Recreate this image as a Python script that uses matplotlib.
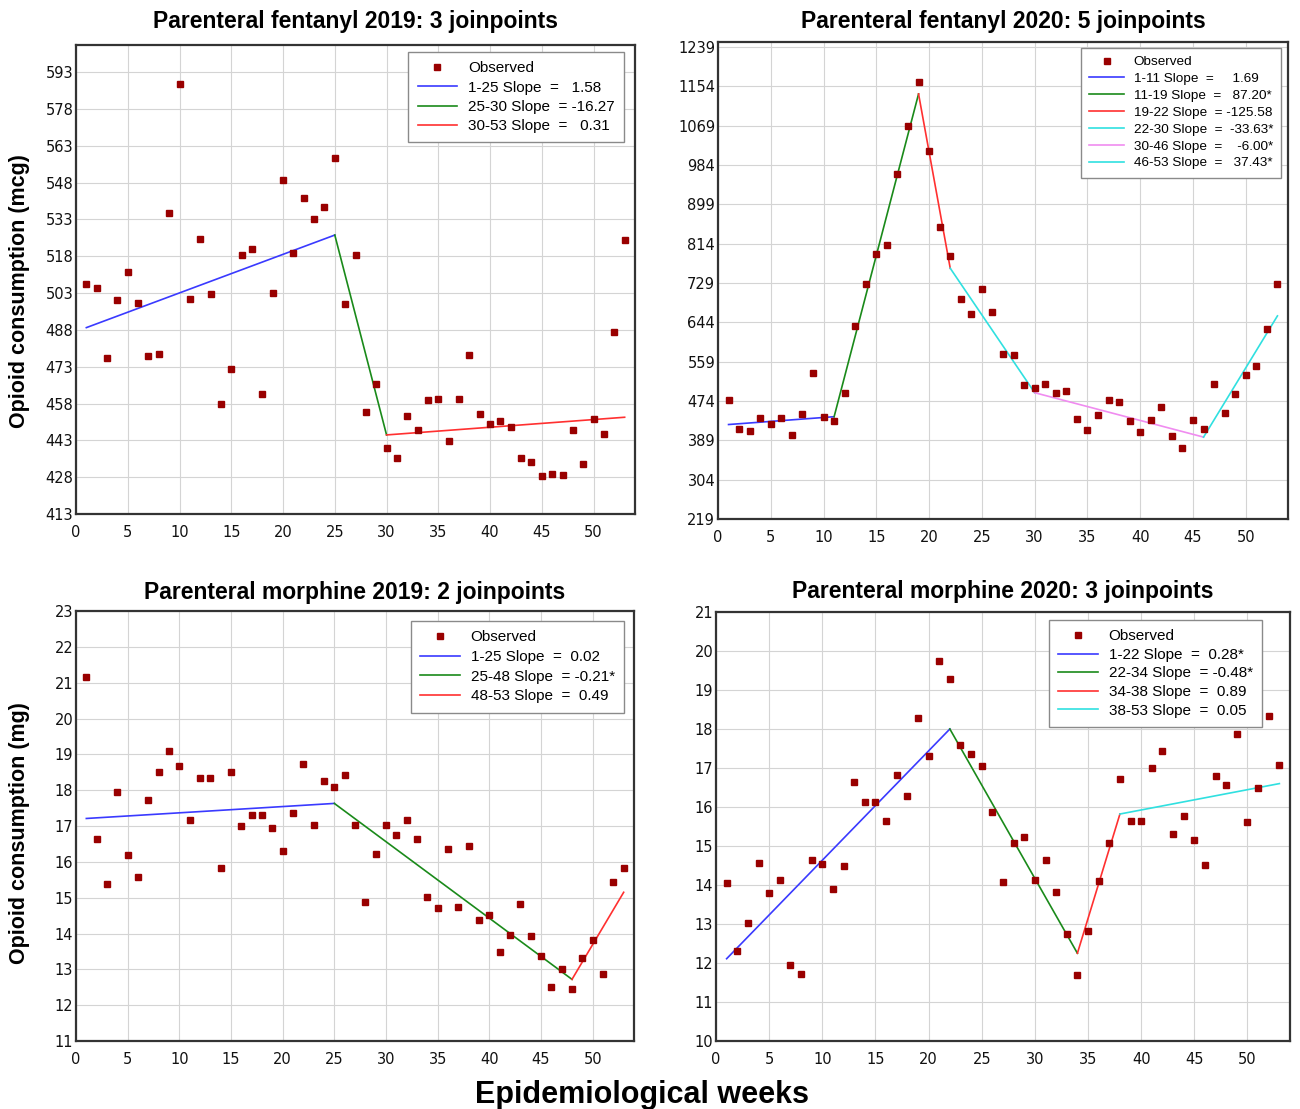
import matplotlib
matplotlib.use("Agg")
import matplotlib.pyplot as plt
from matplotlib.lines import Line2D

# ---------------- data ----------------
weeks = list(range(1, 54))

fent2019 = [506.5, 505, 476.5, 500, 511.6, 499, 477.2, 478.3, 535.4, 588.2,
            500.5, 525.1, 502.5, 457.9, 471.9, 518.4, 521, 461.8, 502.9, 549.2,
            519.4, 541.7, 533.3, 538.2, 557.8, 498.4, 518.4, 454.6, 465.9, 439.7,
            435.7, 452.9, 447.4, 459.4, 459.9, 442.8, 459.8, 477.9, 453.8, 449.5,
            451, 448.4, 435.9, 434, 428.5, 429.3, 428.8, 447.1, 433.4, 451.8,
            445.4, 487.1, 524.7]
fent2019_jp_weeks = [1, 25, 30, 53]
fent2019_jp_vals = [488.9, 526.6, 445.2, 452.4]
fent2019_labels = ["1-25 Slope  =   1.58", "25-30 Slope  = -16.27", "30-53 Slope  =   0.31"]
fent2019_ticks = [413, 428, 443, 458, 473, 488, 503, 518, 533, 548, 563, 578, 593]

fent2020 = [476.4, 414.5, 408.8, 436.8, 424.6, 437.5, 401.6, 446.9, 534.6, 439,
            431.8, 491.5, 636, 726.6, 792.7, 810.7, 964.5, 1068.7, 1163.6, 1014.1,
            849.5, 788.4, 693.5, 661.8, 717.2, 665.4, 576.3, 573.4, 508.7, 502.2,
            510.2, 492.2, 495.1, 436.1, 411.7, 444.7, 477.1, 471.3, 430.4, 406.6,
            433.2, 461.3, 398, 371.4, 433.2, 413.1, 511.6, 448.3, 488.6, 530.3,
            549, 630.2, 728]
fent2020_jp_weeks = [1, 11, 19, 22, 30, 46, 53]
fent2020_jp_vals = [423.2, 440.1, 1137.7, 761.0, 492.0, 396.0, 658.0]
fent2020_labels = ["1-11 Slope  =     1.69", "11-19 Slope  =   87.20*", "19-22 Slope  = -125.58",
                   "22-30 Slope  =  -33.63*", "30-46 Slope  =    -6.00*", "46-53 Slope  =   37.43*"]
fent2020_ticks = [219, 304, 389, 474, 559, 644, 729, 814, 899, 984, 1069, 1154, 1239]

morph2019 = [21.16, 16.64, 15.37, 17.94, 16.2, 15.59, 17.73, 18.52, 19.09, 18.68,
             17.18, 18.35, 18.35, 15.82, 18.51, 17.0, 17.32, 17.31, 16.94, 16.3,
             17.36, 18.72, 17.04, 18.26, 18.09, 18.42, 17.03, 14.89, 16.23, 17.04,
             16.74, 17.17, 16.64, 15.01, 14.71, 16.35, 14.73, 16.45, 14.39, 14.51,
             13.48, 13.97, 14.81, 13.93, 13.36, 12.5, 13.02, 12.44, 13.32, 13.82,
             12.86, 15.45, 15.82]
morph2019_jp_weeks = [1, 25, 48, 53]
morph2019_jp_vals = [17.21, 17.63, 12.72, 15.15]
morph2019_labels = ["1-25 Slope  =  0.02", "25-48 Slope  = -0.21*", "48-53 Slope  =  0.49"]
morph2019_ticks = list(range(11, 24))

morph2020 = [14.04, 12.3, 13.03, 14.57, 13.8, 14.13, 11.94, 11.72, 14.65, 14.54,
             13.9, 14.48, 16.63, 16.14, 16.12, 15.64, 16.81, 16.27, 18.27, 17.3,
             19.74, 19.29, 17.6, 17.37, 17.06, 15.88, 14.07, 15.08, 15.23, 14.13,
             14.65, 13.81, 12.75, 11.7, 12.81, 14.11, 15.08, 16.71, 15.63, 15.63,
             17.01, 17.43, 15.3, 15.76, 15.15, 14.51, 16.79, 16.56, 17.87, 15.61,
             16.5, 18.34, 17.08]
morph2020_jp_weeks = [1, 22, 34, 38, 53]
morph2020_jp_vals = [12.11, 18.0, 12.25, 15.82, 16.6]
morph2020_labels = ["1-22 Slope  =  0.28*", "22-34 Slope  = -0.48*", "34-38 Slope  =  0.89",
                    "38-53 Slope  =  0.05"]
morph2020_ticks = list(range(10, 22))

titles = ["Parenteral fentanyl 2019: 3 joinpoints", "Parenteral fentanyl 2020: 5 joinpoints",
          "Parenteral morphine 2019: 2 joinpoints", "Parenteral morphine 2020: 3 joinpoints"]
x_ticks = [0, 5, 10, 15, 20, 25, 30, 35, 40, 45, 50]

# ---------------- styling ----------------
W, H = 1300, 1109
fig = plt.figure(figsize=(W / 100, H / 100), dpi=100)

BLUE = "#3a3aff"
GREEN = "#1a8a1a"
RED = "#ff3030"
CYAN = "#30e0e0"
PINK = "#f08cf0"
MARK = "#990000"


def px_axes(l, r, t, b):
    return fig.add_axes([l / W, 1 - b / H, (r - l) / W, (b - t) / H])


panels = [
    dict(rect=(76, 635, 45, 514), obs=fent2019, jw=fent2019_jp_weeks, jv=fent2019_jp_vals,
         labels=fent2019_labels, colors=[BLUE, GREEN, RED], ticks=fent2019_ticks,
         ylim=(413, 604), leg=(0.98, 0.985), ls=0.35, pad=12, fs=11),
    dict(rect=(718, 1288, 42, 519), obs=fent2020, jw=fent2020_jp_weeks, jv=fent2020_jp_vals,
         labels=fent2020_labels, colors=[BLUE, GREEN, RED, CYAN, PINK, CYAN], ticks=fent2020_ticks,
         ylim=(219, 1250), leg=(0.988, 0.988), ls=0.33, pad=10, fs=9.7),
    dict(rect=(76, 634, 611, 1041), obs=morph2019, jw=morph2019_jp_weeks, jv=morph2019_jp_vals,
         labels=morph2019_labels, colors=[BLUE, GREEN, RED], ticks=morph2019_ticks,
         ylim=(11, 23), leg=(0.982, 0.976), ls=0.37, pad=9, fs=11),
    dict(rect=(716, 1290, 612, 1041), obs=morph2020, jw=morph2020_jp_weeks, jv=morph2020_jp_vals,
         labels=morph2020_labels, colors=[BLUE, GREEN, RED, CYAN], ticks=morph2020_ticks,
         ylim=(10, 21), leg=(0.951, 0.981), ls=0.3, pad=10, fs=11),
]

for p, title in zip(panels, titles):
    ax = px_axes(*p["rect"])
    ax.set_xlim(0, 54)
    ax.set_ylim(*p["ylim"])
    ax.set_xticks(x_ticks)
    ax.set_yticks(p["ticks"])
    ax.tick_params(length=0, labelsize=10.5, colors="#111111")
    ax.tick_params(axis="x", pad=8)
    ax.tick_params(axis="y", pad=2)
    ax.grid(True, color="#d4d4d4", lw=0.8, ls="-")
    ax.set_axisbelow(True)
    for s in ax.spines.values():
        s.set_color("#333333")
        s.set_linewidth(1.6)

    handles = [Line2D([], [], ls="none", marker="s", ms=4.5, color=MARK, label="Observed")]
    jw, jv = p["jw"], p["jv"]
    for i, (c, lab) in enumerate(zip(p["colors"], p["labels"])):
        ax.plot([jw[i], jw[i + 1]], [jv[i], jv[i + 1]], color=c, lw=1.2, zorder=3)
        handles.append(Line2D([], [], color=c, lw=1.2, label=lab))
    ax.plot(weeks, p["obs"], ls="none", marker="s", ms=4.5, color=MARK, zorder=4)

    leg = ax.legend(handles=handles, loc="upper right", bbox_to_anchor=p["leg"],
                    borderaxespad=0, fancybox=False, framealpha=1, edgecolor="#8a8a8a",
                    prop=dict(family="Liberation Sans", size=p["fs"]), labelspacing=p["ls"],
                    handlelength=2.6, handletextpad=0.7, borderpad=0.6)
    leg.get_frame().set_linewidth(1.0)
    leg.set_zorder(10)

    ax.set_title(title, fontsize=16.5, fontweight="bold", family="Liberation Sans", pad=p["pad"])

fig.text(20 / W, 1 - 291 / H, "Opioid consumption (mcg)", rotation=90, ha="center", va="center",
         fontsize=15.5, fontweight="bold", family="Liberation Sans")
fig.text(20 / W, 1 - 833 / H, "Opioid consumption (mg)", rotation=90, ha="center", va="center",
         fontsize=15.5, fontweight="bold", family="Liberation Sans")
fig.text(642 / W, 1 - 1095 / H, "Epidemiological weeks", ha="center", va="center",
         fontsize=22, fontweight="bold", family="Liberation Sans")

fig.savefig("out.png", dpi=100)
